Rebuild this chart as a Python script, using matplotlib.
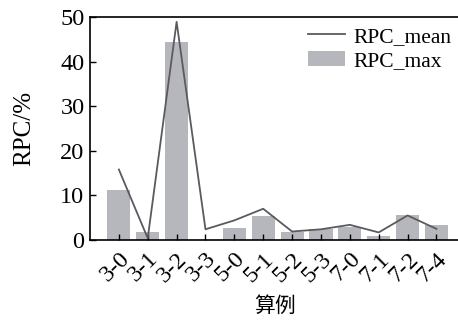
import numpy as np
import matplotlib
matplotlib.use('Agg')
import matplotlib.pyplot as plt

cases = ['3-0', '3-1', '3-2', '3-3', '5-0', '5-1', '5-2', '5-3', '7-0', '7-1', '7-2', '7-4']
rpc_max = [11.2, 1.8, 44.4, 0.0, 2.8, 5.4, 1.9, 2.5, 3.0, 1.0, 5.7, 3.4]
rpc_mean = [15.8, 0.4, 48.9, 2.4, 4.4, 7.0, 1.9, 2.4, 3.4, 1.7, 5.5, 2.5]

plt.rcParams['font.family'] = ['Liberation Serif', 'Noto Sans CJK SC']
plt.rcParams['font.size'] = 17.5

fig = plt.figure(figsize=(4.58, 3.2), dpi=100)
ax = fig.add_axes([0.1965, 0.25, 0.81, 0.697])

x = np.arange(len(cases))
ax.bar(x, rpc_max, width=0.8, color='#b6b6bd', label='RPC_max', zorder=1)
ax.plot(x, rpc_mean, color='#5a5a5f', linewidth=1.3, label='RPC_mean', zorder=2)

ax.set_xlim(-1, 11.85)
ax.set_ylim(0, 50)
ax.set_yticks([0, 10, 20, 30, 40, 50])
ax.set_xticks(x)
ax.set_xticklabels(cases, rotation=45, ha='right', va='top', rotation_mode='anchor')
ax.tick_params(direction='in', length=4, width=1, pad=4)
ax.tick_params(axis='x', pad=6)

for s in ['left', 'bottom', 'top']:
    ax.spines[s].set_linewidth(1.2)
ax.spines['right'].set_visible(False)

ax.set_ylabel('RPC/%', fontsize=18, labelpad=18)
ax.set_xlabel('算例', family=['Noto Sans CJK SC'], fontsize=15, labelpad=6)

h, l = ax.get_legend_handles_labels()
ax.legend(h, l, loc='upper right', frameon=False, handlelength=1.7,
          borderaxespad=0.05, labelspacing=0.2, handletextpad=0.4, fontsize=15.5)

fig.savefig('out.png', dpi=100)
